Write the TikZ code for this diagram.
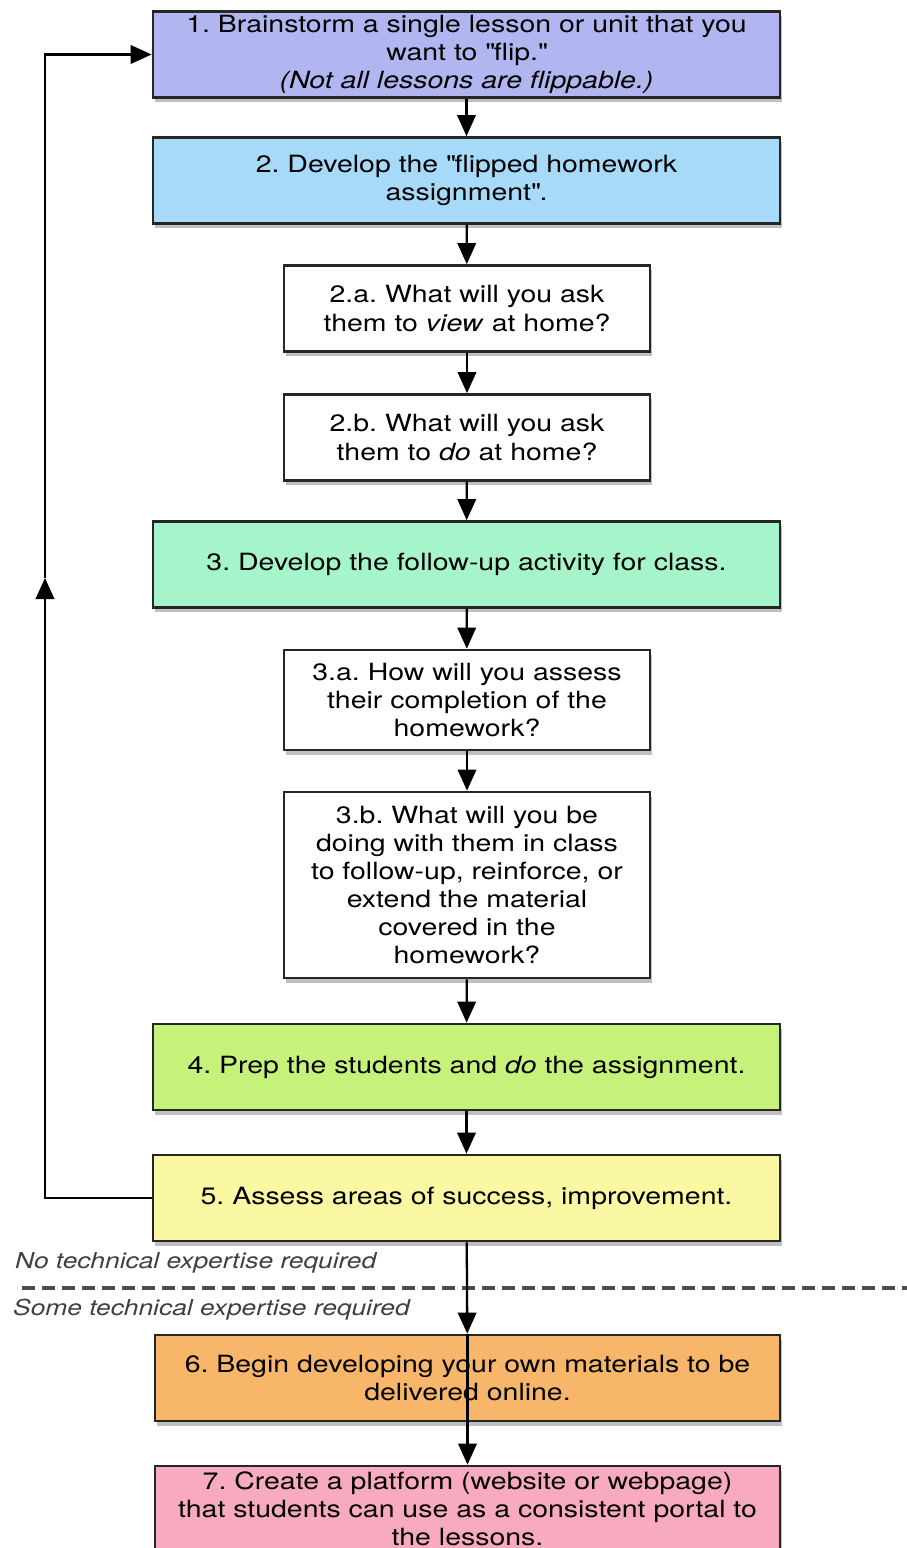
\documentclass[tikz,border=0pt]{standalone}
\usepackage{fontspec}
\setmainfont[FakeStretch=1.2]{TeX Gyre Heros}
\usetikzlibrary{shadows,arrows.meta}
\definecolor{boxone}{RGB}{178,182,240}
\definecolor{boxtwo}{RGB}{166,218,248}
\definecolor{boxthree}{RGB}{166,245,202}
\definecolor{boxfour}{RGB}{198,242,124}
\definecolor{boxfive}{RGB}{250,248,162}
\definecolor{boxsix}{RGB}{248,182,106}
\definecolor{boxseven}{RGB}{248,170,192}
\frenchspacing

\begin{document}
\begin{tikzpicture}[
  bigbox/.style={draw=black!85, line width=1.5pt, fill=white, minimum width=12.54cm, minimum height=1.72cm,
    align=center, inner sep=2pt, drop shadow={opacity=0.5, shadow xshift=0.04cm, shadow yshift=-0.1cm},
    font=\fontsize{13.5}{16}\selectfont},
  smallbox/.style={bigbox, minimum width=7.32cm},
  arr/.style={line width=1.3pt, -{Triangle[length=12pt,width=10.5pt]}},
  note/.style={anchor=west, text=black!75, font=\fontsize{12.5}{15}\selectfont\itshape}
]
\useasboundingbox (0,0) rectangle (18.14,30.96);

% main steps
\node[bigbox, fill=boxone] (b1) at (9.33,29.87) {1. Brainstorm a single lesson or unit that you\\ want to \textquotedbl flip.\textquotedbl\\ {\itshape (Not all lessons are flippable.)}};
\node[bigbox, fill=boxtwo] (b2) at (9.33,27.35) {2. Develop the \textquotedbl flipped homework\\ assignment\textquotedbl.};
\node[smallbox] (b2a) at (9.34,24.79) {2.a. What will you ask\\ them to \textit{view} at home?};
\node[smallbox] (b2b) at (9.34,22.21) {2.b. What will you ask\\ them to \textit{do} at home?};
\node[bigbox, fill=boxthree] (b3) at (9.33,19.67) {3. Develop the follow-up activity for class.};
\node[smallbox, minimum height=2cm] (b3a) at (9.34,16.96) {3.a. How will you assess\\ their completion of the\\ homework?};
\node[smallbox, minimum height=3.72cm] (b3b) at (9.34,13.26) {3.b. What will you be\\ doing with them in class\\ to follow-up, reinforce, or\\ extend the material\\ covered in the\\ homework?};
\node[bigbox, fill=boxfour] (b4) at (9.33,9.62) {4. Prep the students and \textit{do} the assignment.};
\node[bigbox, fill=boxfive] (b5) at (9.33,7.00) {5. Assess areas of success, improvement.};

% technical line
\draw[black!70, line width=2pt, dash pattern=on 0.26cm off 0.14cm] (0.44,5.2) -- (18.14,5.2);
\node[note] (notech) at (0.18,5.7) {No technical expertise required};
\node[note] (sometech) at (0.14,4.76) {Some technical expertise required};

\node[bigbox, fill=boxsix, minimum width=12.5cm] (b6) at (9.35,3.40) {6. Begin developing your own materials to be\\ delivered online.};
\node[bigbox, fill=boxseven, minimum width=12.5cm] (b7) at (9.35,0.78) {7. Create a platform (website or webpage)\\ that students can use as a consistent portal to\\ the lessons.};

% connectors
\draw[arr] (b1) -- (b2);
\draw[arr] (b2) -- (b2a);
\draw[arr] (b2a) -- (b2b);
\draw[arr] (b2b) -- (b3);
\draw[arr] (b3) -- (b3a);
\draw[arr] (b3a) -- (b3b);
\draw[arr] (b3b) -- (b4);
\draw[arr] (b4) -- (b5);
\draw[arr] (b5) -- (b6);
\draw[arr] (b6.north) -- (b7);

% loop back to step 1
\coordinate (loopbot) at (0.9,7.00);
\coordinate (loopmid) at (0.9,19.4);
\coordinate (looptop) at (0.9,29.87);
\draw[arr] (b5.west) -- (loopbot) -- (loopmid);
\draw[arr] (loopmid) -- (looptop) -- (b1.west);
\end{tikzpicture}
\end{document}
